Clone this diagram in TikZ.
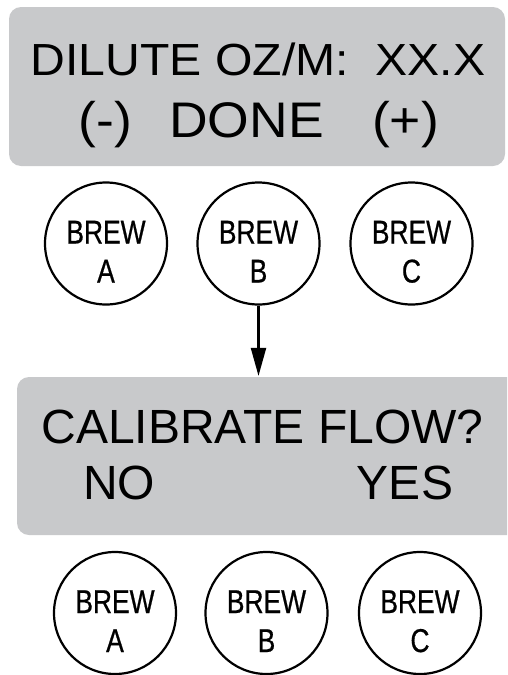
\documentclass[tikz,border=0pt]{standalone}
\usepackage{fontspec}
\usepackage{graphicx}
\setmainfont{Liberation Sans}
\newfontfamily\btnfont[FakeStretch=0.8, FakeBold=0.6]{Liberation Sans}
\usetikzlibrary{arrows.meta}
\definecolor{lcdgray}{RGB}{200,201,203}

\begin{document}
\begin{tikzpicture}[x=1pt, y=-1pt, line width=2.2pt, >={Triangle[length=28pt,width=15pt]},
    screen/.style={fill=lcdgray, rounded corners=12pt, inner sep=0pt},
    button/.style={draw, circle, minimum size=122pt, inner sep=0pt, align=center,
      font=\btnfont\fontsize{33}{39}\selectfont, text height=78pt, text depth=0pt},
    lcdtext/.style={anchor=base, inner sep=0pt}]
    \useasboundingbox (0,0) rectangle (507,675);
    \clip (0,0) rectangle (507,675);
    % Dilute screen
    \node[screen, minimum width=496pt, minimum height=159pt] (dilute) at (257,86.5) {};
    \node[lcdtext, font=\fontsize{45}{54}\selectfont] (diluteline) at (258,75) {\scalebox{1.07}[1]{DILUTE OZ/M:\ \ XX.X}};
    \node[lcdtext, font=\fontsize{50}{60}\selectfont] (minus) at (105.5,137) {\scalebox{1.07}[1]{(-)}};
    \node[lcdtext, font=\fontsize{50}{60}\selectfont] (done) at (246.5,137) {\scalebox{1.07}[1]{DONE}};
    \node[lcdtext, font=\fontsize{50}{60}\selectfont] (plus) at (405.5,137) {\scalebox{1.07}[1]{(+)}};
    % Buttons under the first screen
    \node[button] (topA) at (106,243.5) {BREW\\A};
    \node[button] (topB) at (258.5,243.5) {BREW\\B};
    \node[button] (topC) at (411.5,243.5) {BREW\\C};
    % Calibrate screen
    \node[screen, minimum width=503pt, minimum height=158pt] (calib) at (268.5,456) {};
    \node[lcdtext, font=\fontsize{48}{58}\selectfont] (calibline) at (262.5,443) {CALIBRATE FLOW?};
    \node[lcdtext, font=\fontsize{48}{58}\selectfont] (no) at (119,499) {NO};
    \node[lcdtext, font=\fontsize{48}{58}\selectfont] (yes) at (405,499) {YES};
    % Buttons under the second screen
    \node[button] (botA) at (115,613) {BREW\\A};
    \node[button] (botB) at (266.5,613) {BREW\\B};
    \node[button] (botC) at (420,613) {BREW\\C};
    % Press B
    \draw[->] (topB.south) -- (topB.south |- calib.north);
\end{tikzpicture}
\end{document}
